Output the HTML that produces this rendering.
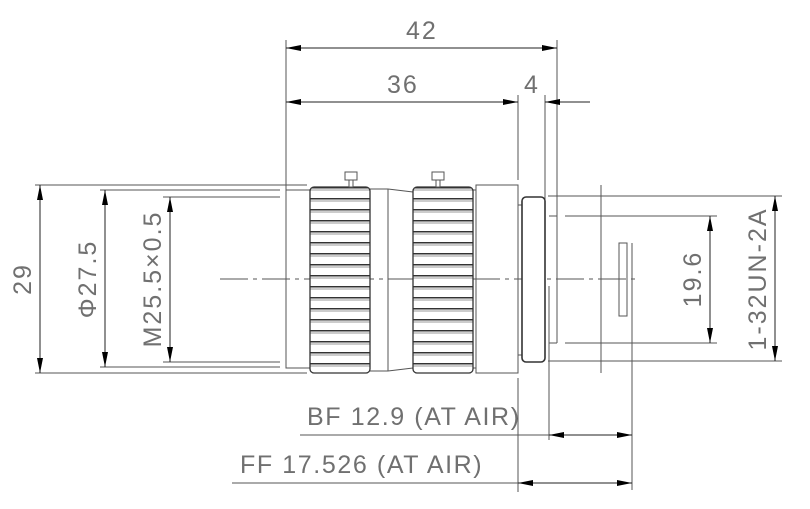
<!DOCTYPE html>
<html><head><meta charset="utf-8"><style>
html,body{margin:0;padding:0;background:#fff;}
svg{display:block}
text{font-family:"Liberation Sans",sans-serif;fill:#707070;font-weight:300}
</style></head><body>
<svg width="810" height="509" viewBox="0 0 810 509" xmlns="http://www.w3.org/2000/svg">
<defs>
<marker id="a" viewBox="0 0 10 4" refX="10" refY="2" markerWidth="18" markerHeight="6" markerUnits="userSpaceOnUse" orient="auto-start-reverse"><path d="M0,0 L10,2 L0,4z" fill="#000"/></marker>
<pattern id="rib" x="0" y="187" width="60" height="11" patternUnits="userSpaceOnUse">
<rect width="60" height="11" fill="#fff"/>
<line x1="0" y1="0.8" x2="60" y2="0.8" stroke="#333" stroke-width="1.5"/>
<line x1="0" y1="3" x2="60" y2="3" stroke="#999" stroke-width="1"/>
</pattern>
</defs>
<g stroke="#555" stroke-width="1" fill="none">
<line x1="286" y1="40" x2="286" y2="190"/>
<line x1="557" y1="40" x2="557" y2="200"/>
<line x1="518" y1="95" x2="518" y2="180"/>
<line x1="545" y1="95" x2="545" y2="200"/>
<line x1="35" y1="185" x2="307" y2="185"/>
<line x1="35" y1="373" x2="307" y2="373"/>
<line x1="100" y1="190" x2="280" y2="190"/>
<line x1="100" y1="367" x2="280" y2="367"/>
<line x1="163" y1="197" x2="280" y2="197"/>
<line x1="163" y1="362" x2="280" y2="362"/>
<rect x="286" y="190" width="24" height="178"/>
<line x1="370" y1="189" x2="388" y2="189"/>
<line x1="370" y1="371" x2="388" y2="371"/>
<line x1="388" y1="189" x2="388" y2="371"/>
<line x1="388" y1="189" x2="413" y2="192"/>
<line x1="388" y1="371" x2="413" y2="368"/>
<rect x="476" y="185" width="42" height="188"/>
<line x1="472" y1="190" x2="476" y2="190"/>
<line x1="472" y1="368" x2="476" y2="368"/>
<line x1="518" y1="205" x2="522" y2="205"/>
<line x1="518" y1="355" x2="522" y2="355"/>
<line x1="549" y1="216" x2="557" y2="216"/>
<line x1="557" y1="200" x2="557" y2="343"/>
<line x1="549" y1="343" x2="557" y2="343"/>
<line x1="549" y1="286" x2="549" y2="440"/>
<line x1="548" y1="196" x2="782" y2="196"/>
<line x1="548" y1="361" x2="782" y2="361"/>
<line x1="565" y1="216" x2="717" y2="216"/>
<line x1="565" y1="343" x2="717" y2="343"/>
<line x1="601" y1="185" x2="601" y2="373"/>
<rect x="619" y="243" width="8" height="73"/>
<line x1="632" y1="243" x2="632" y2="490"/>
<line x1="518" y1="378" x2="518" y2="492"/>
<line x1="220" y1="279" x2="635" y2="279" stroke-dasharray="28,5,4,5"/>
</g>
<g stroke="#333" stroke-width="1.3">
<rect x="310" y="187" width="60" height="186" rx="4" fill="url(#rib)"/>
<rect x="413" y="187" width="60" height="186" rx="4" fill="url(#rib)"/>
<rect x="522" y="197" width="23" height="165" rx="4" fill="#fff" stroke-width="1.6"/>
</g>
<g stroke="#555" fill="#fff">
<rect x="345" y="172" width="12" height="8"/>
<rect x="349" y="180" width="4" height="7"/>
<rect x="432" y="172" width="12" height="8"/>
<rect x="436" y="180" width="4" height="7"/>
</g>
<g stroke="#222" stroke-width="1">
<line x1="286" y1="48" x2="557" y2="48" marker-start="url(#a)" marker-end="url(#a)"/>
<line x1="286" y1="102" x2="518" y2="102" marker-start="url(#a)" marker-end="url(#a)"/>
<line x1="590" y1="102" x2="545" y2="102" marker-end="url(#a)"/>
<line x1="40" y1="185" x2="40" y2="373" marker-start="url(#a)" marker-end="url(#a)"/>
<line x1="105" y1="190" x2="105" y2="367" marker-start="url(#a)" marker-end="url(#a)"/>
<line x1="170" y1="197" x2="170" y2="362" marker-start="url(#a)" marker-end="url(#a)"/>
<line x1="710" y1="216" x2="710" y2="343" marker-start="url(#a)" marker-end="url(#a)"/>
<line x1="775" y1="196" x2="775" y2="361" marker-start="url(#a)" marker-end="url(#a)"/>
<line x1="300" y1="435" x2="549" y2="435" stroke="#555"/>
<line x1="549" y1="435" x2="632" y2="435" marker-start="url(#a)" marker-end="url(#a)"/>
<line x1="232" y1="483" x2="518" y2="483" stroke="#555"/>
<line x1="518" y1="483" x2="632" y2="483" marker-start="url(#a)" marker-end="url(#a)"/>
</g>
<g font-size="25" letter-spacing="2">
<text x="406" y="39">42</text>
<text x="387" y="93">36</text>
<text x="524" y="93">4</text>
<text transform="translate(31,279) rotate(-90)" text-anchor="middle">29</text>
<text transform="translate(96,279) rotate(-90)" text-anchor="middle">Φ27.5</text>
<text transform="translate(161,279) rotate(-90)" text-anchor="middle">M25.5×0.5</text>
<text transform="translate(701,279) rotate(-90)" text-anchor="middle">19.6</text>
<text transform="translate(766,279) rotate(-90)" text-anchor="middle">1-32UN-2A</text>
<text x="307" y="425" letter-spacing="1.6">BF 12.9 (AT AIR)</text>
<text x="240" y="473" letter-spacing="1.6">FF 17.526 (AT AIR)</text>
</g>
</svg>
</body></html>
